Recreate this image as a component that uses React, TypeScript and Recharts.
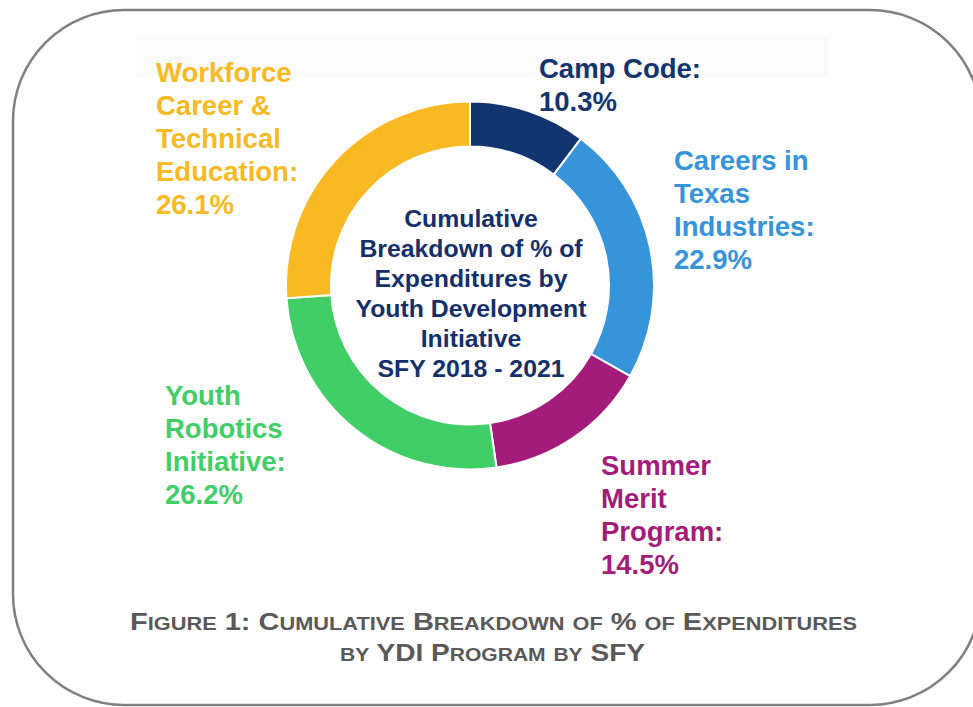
import React from 'react';
import { PieChart, Pie, Cell } from 'recharts';

// slice data, clockwise from 12 o'clock
const programs = [
  'Camp Code',
  'Careers in Texas Industries',
  'Summer Merit Program',
  'Youth Robotics Initiative',
  'Workforce Career & Technical Education',
];
const shares = [10.3, 22.9, 14.5, 26.2, 26.1];
const labelLines = [
  ['Camp Code:'],
  ['Careers in', 'Texas', 'Industries:'],
  ['Summer', 'Merit', 'Program:'],
  ['Youth', 'Robotics', 'Initiative:'],
  ['Workforce', 'Career &', 'Technical', 'Education:'],
];
const centerTitle = [
  'Cumulative',
  'Breakdown of % of',
  'Expenditures by',
  'Youth Development',
  'Initiative',
  'SFY 2018 - 2021',
];
const captionLines = ['Figure 1: Cumulative Breakdown of % of Expenditures', 'by YDI Program by SFY'];

const COLORS = ['#12346f', '#3594da', '#a31c7c', '#41ce67', '#f9b922'];
const LABEL_POS = [
  { x: 539, y: 78 },
  { x: 674, y: 170 },
  { x: 601, y: 475 },
  { x: 165, y: 405 },
  { x: 156, y: 82 },
];

const W = 973;
const H = 707;
const FONT = '"Liberation Sans", Arial, sans-serif';

const data = programs.map((name, i) => ({ name, value: shares[i] }));

const renderLabel = (props: any) => {
  const i = props.index;
  const pos = LABEL_POS[i];
  const lines = [...labelLines[i], `${shares[i]}%`];
  return (
    <text
      key={`lbl-${i}`}
      x={pos.x}
      y={pos.y}
      fill={COLORS[i]}
      fontFamily={FONT}
      fontWeight="bold"
      fontSize={27.5}
      textAnchor="start"
    >
      {lines.map((l, j) => (
        <tspan key={j} x={pos.x} y={pos.y + j * 33}>
          {l}
        </tspan>
      ))}
    </text>
  );
};

// fake small caps: capitals full size, lower case letters uppercased & smaller
function smallCaps(str: string) {
  const parts: { t: string; small: boolean }[] = [];
  for (const ch of str) {
    const small = ch !== ch.toUpperCase();
    const last = parts[parts.length - 1];
    if (last && last.small === small) last.t += small ? ch.toUpperCase() : ch;
    else parts.push({ t: small ? ch.toUpperCase() : ch, small });
  }
  return parts.map((p, k) => (
    <tspan key={k} fontSize={p.small ? 18 : 24}>
      {p.t}
    </tspan>
  ));
}

export default function App() {
  return (
    <div style={{ position: 'absolute', left: 0, top: 0, width: W, height: H, background: '#fff', overflow: 'hidden' }}>
      <svg width={W} height={H} style={{ position: 'absolute', left: 0, top: 0 }}>
        <rect x={13} y={10} width={968} height={695} rx={111} ry={111} fill="#fff" stroke="#7f7f7f" strokeWidth={2.5} />
        <rect x={135} y={37} width={693} height={40} fill="#fbfbfb" />
      </svg>
      <div style={{ position: 'absolute', left: 0, top: 0 }}>
        <PieChart width={W} height={H} margin={{ top: 0, right: 0, bottom: 0, left: 0 }}>
          <Pie
            data={data}
            dataKey="value"
            nameKey="name"
            cx={470}
            cy={285.5}
            innerRadius={139}
            outerRadius={184}
            startAngle={90}
            endAngle={-270}
            stroke="#ffffff"
            strokeWidth={2}
            label={renderLabel}
            labelLine={false}
            isAnimationActive={false}
          >
            {data.map((d, i) => (
              <Cell key={d.name} fill={COLORS[i]} />
            ))}
          </Pie>
        </PieChart>
      </div>
      <svg width={W} height={H} style={{ position: 'absolute', left: 0, top: 0, pointerEvents: 'none' }}>
        <text x={471} fill="#13306c" fontFamily={FONT} fontWeight="bold" fontSize={24.8} textAnchor="middle">
          {centerTitle.map((l, j) => (
            <tspan key={j} x={471} y={227 + j * 30}>
              {l}
            </tspan>
          ))}
        </text>
        <text
          x={130}
          y={630}
          fill="#595959"
          fontFamily={FONT}
          fontWeight="bold"
          textLength={727}
          lengthAdjust="spacingAndGlyphs"
        >
          {smallCaps(captionLines[0])}
        </text>
        <text
          x={340}
          y={661}
          fill="#595959"
          fontFamily={FONT}
          fontWeight="bold"
          textLength={305}
          lengthAdjust="spacingAndGlyphs"
        >
          {smallCaps(captionLines[1])}
        </text>
      </svg>
    </div>
  );
}
